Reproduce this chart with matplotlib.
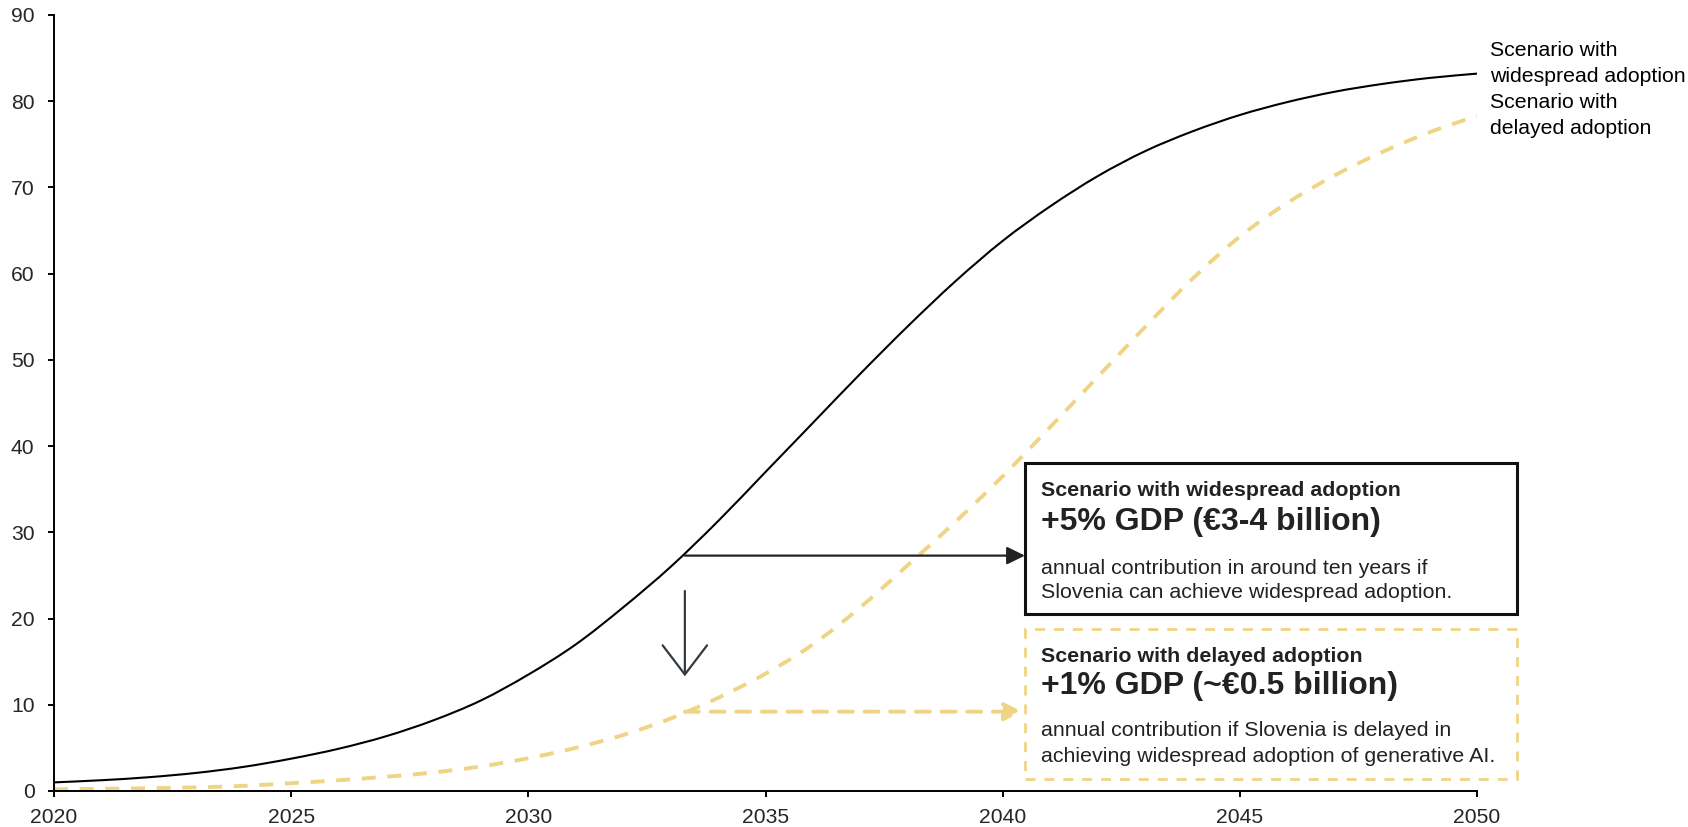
import matplotlib.pyplot as plt
from matplotlib.patches import Rectangle, PathPatch
from matplotlib.path import Path

plt.rcParams['font.family'] = ['Liberation Sans', 'DejaVu Sans']

# data (yearly points)
years = list(range(2020, 2051))
widespread = [1.0, 1.25, 1.6, 2.1, 2.8, 3.75, 4.9, 6.35, 8.2, 10.5,
              13.5, 17.0, 21.3, 26.0, 31.3, 37.0, 42.7, 48.4, 53.9, 59.1,
              63.8, 67.8, 71.3, 74.2, 76.5, 78.4, 79.9, 81.1, 82.0, 82.7,
              83.2]
delayed = [0.2, 0.25, 0.32, 0.42, 0.6, 0.9, 1.25, 1.65, 2.15, 2.85,
           3.8, 5.0, 6.5, 8.4, 10.8, 13.6, 17.0, 21.3, 26.2, 31.2,
           36.5, 42.2, 48.0, 53.8, 59.4, 64.3, 68.2, 71.4, 74.1, 76.4,
           78.3]

x_ticks = [2020, 2025, 2030, 2035, 2040, 2045, 2050]
y_ticks = [0, 10, 20, 30, 40, 50, 60, 70, 80, 90]

label_wide = ['Scenario with', 'widespread adoption']
label_delay = ['Scenario with', 'delayed adoption']

box_wide = ['Scenario with widespread adoption', '+5% GDP (€3-4 billion)',
            'annual contribution in around ten years if',
            'Slovenia can achieve widespread adoption.']
box_delay = ['Scenario with delayed adoption', '+1% GDP (~€0.5 billion)',
             'annual contribution if Slovenia is delayed in',
             'achieving widespread adoption of generative AI.']

# annotation anchor points
arrow_year = 2033.3
arrow_wide = 27.3
arrow_delay = 9.2
box_edge_year = 2040.47

YELLOW = '#F0D486'
TXT = '#222222'

W, H = 1688, 827
def fx(x):
    return x / W
def fy(y):
    return 1 - y / H


def smooth_path(xs, ys):
    # catmull-rom through the points, drawn as cubic bezier segments
    n = len(xs)
    verts = [(xs[0], ys[0])]
    codes = [Path.MOVETO]
    for i in range(n - 1):
        i0 = max(i - 1, 0)
        i3 = min(i + 2, n - 1)
        c1 = (xs[i] + (xs[i + 1] - xs[i0]) / 6, ys[i] + (ys[i + 1] - ys[i0]) / 6)
        c2 = (xs[i + 1] - (xs[i3] - xs[i]) / 6, ys[i + 1] - (ys[i3] - ys[i]) / 6)
        verts += [c1, c2, (xs[i + 1], ys[i + 1])]
        codes += [Path.CURVE4] * 3
    return Path(verts, codes)


fig = plt.figure(figsize=(W / 100, H / 100), dpi=100)
ax = fig.add_axes([fx(54), fy(791), (1477 - 54) / W, (791 - 15) / H])

ax.add_patch(PathPatch(smooth_path(years, widespread), fill=False, ec='black', lw=1.5))
ax.add_patch(PathPatch(smooth_path(years, delayed), fill=False, ec=YELLOW, lw=2.8,
                       ls=(0, (3.6, 3.0))))

ax.set_xlim(2020, 2050)
ax.set_ylim(0, 90)
ax.set_xticks(x_ticks)
ax.set_yticks(y_ticks)
for s in ['top', 'right']:
    ax.spines[s].set_visible(False)
for s in ['left', 'bottom']:
    ax.spines[s].set_linewidth(1.4)
ax.tick_params(axis='y', length=4, width=1.4, pad=10, labelsize=15.2, labelcolor='#262626')
ax.tick_params(axis='x', length=4.5, width=1.4, pad=8, labelsize=15.2, labelcolor='#262626')

# arrows
ax.annotate('', xy=(box_edge_year, arrow_wide), xytext=(arrow_year, arrow_wide),
            arrowprops=dict(arrowstyle='-|>,head_length=0.55,head_width=0.27',
                            color=TXT, lw=1.6, shrinkA=0, shrinkB=0, mutation_scale=20))
ax.annotate('', xy=(box_edge_year - 0.05, arrow_delay), xytext=(arrow_year, arrow_delay),
            arrowprops=dict(arrowstyle='-|>,head_length=0.55,head_width=0.27',
                            color=YELLOW, lw=2.8, linestyle=(0, (3.6, 3.0)),
                            shrinkA=0, shrinkB=0, mutation_scale=20))
ax.annotate('', xy=(arrow_year, 13.3), xytext=(arrow_year, 23.2),
            arrowprops=dict(arrowstyle='->,head_length=1.05,head_width=0.8',
                            color='#343a3f', lw=1.6, shrinkA=0, shrinkB=0, mutation_scale=20))

# end labels
fig.text(fx(1490), fy(51), label_wide[0], fontsize=15.3, color='black', va='center')
fig.text(fx(1490), fy(76), label_wide[1], fontsize=15.3, color='black', va='center')
fig.text(fx(1490), fy(103), label_delay[0], fontsize=15.3, color='black', va='center')
fig.text(fx(1490), fy(128), label_delay[1], fontsize=15.3, color='black', va='center')

# boxes
fig.add_artist(Rectangle((fx(1025), fy(614)), (1517 - 1025) / W, (614 - 463) / H,
                         transform=fig.transFigure, fill=False, ec='#111111', lw=2.2))
fig.add_artist(Rectangle((fx(1025), fy(779)), (1517 - 1025) / W, (779 - 629) / H,
                         transform=fig.transFigure, fill=False, ec=YELLOW, lw=2.0,
                         ls=(0, (3.6, 3.2))))

ys_wide = [490, 522, 568, 593]
ys_delay = [657, 686, 731, 756]
for lines, ys in [(box_wide, ys_wide), (box_delay, ys_delay)]:
    fig.text(fx(1041), fy(ys[0]), lines[0], fontsize=15.4, fontweight='bold', color=TXT, va='center')
    fig.text(fx(1041), fy(ys[1]), lines[1], fontsize=23, fontweight='bold', color=TXT, va='center')
    fig.text(fx(1041), fy(ys[2]), lines[2], fontsize=15.4, color=TXT, va='center')
    fig.text(fx(1041), fy(ys[3]), lines[3], fontsize=15.4, color=TXT, va='center')

fig.savefig('out.png', dpi=100)
